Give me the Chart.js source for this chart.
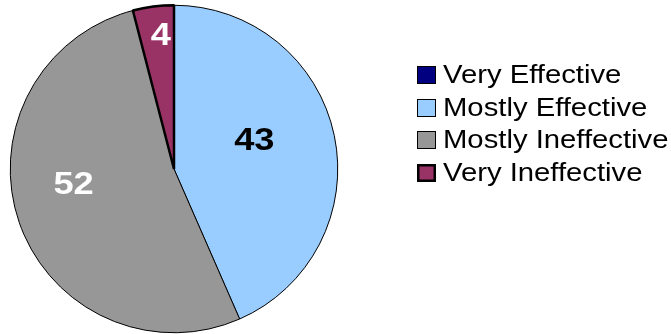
<!DOCTYPE html>
<html>
<head>
<meta charset="utf-8">
<style>
  html, body { margin: 0; padding: 0; background: #fff; }
  #wrap { width: 671px; height: 334px; }
</style>
<script src="https://cdn.jsdelivr.net/npm/chart.js@4/dist/chart.umd.min.js"></script>
</head>
<body>
<div id="wrap"><canvas id="pie" width="671" height="334"></canvas></div>
<script>
const CATEGORIES = ["Very Effective", "Mostly Effective", "Mostly Ineffective", "Very Ineffective"];
const VALUES = [0, 43, 52, 4];
const FILLS = ["#000080", "#99ccff", "#979797", "#993366"];
const LABEL_INK = ["#fff", "#000", "#fff", "#fff"];

// where each value label sits: fraction of radius, and nudge (deg) from the slice middle
const LABEL_SPOT = [
  { r: 0.6, turn: 0 },
  { r: 0.52, turn: -7.5 },
  { r: 0.62, turn: 10.6 },
  { r: 0.82, turn: 1.7 },
];

const STRETCH = 1.17;

function wideText(ctx, text, x, y, align) {
  ctx.save();
  ctx.translate(x, y);
  ctx.scale(STRETCH, 1);
  ctx.textAlign = align;
  ctx.fillText(text, 0, 0);
  ctx.restore();
}

const valueLabels = {
  id: "valueLabels",
  afterDatasetsDraw(chart) {
    const ctx = chart.ctx;
    const arcs = chart.getDatasetMeta(0).data;
    ctx.save();
    ctx.font = "bold 31px 'Liberation Sans', Arial, sans-serif";
    ctx.textBaseline = "middle";
    arcs.forEach((arc, i) => {
      if (!VALUES[i]) return;
      const spot = LABEL_SPOT[i];
      const mid = (arc.startAngle + arc.endAngle) / 2 + (spot.turn * Math.PI) / 180;
      const rad = arc.outerRadius * spot.r;
      const x = arc.x + Math.cos(mid) * rad;
      const y = arc.y + Math.sin(mid) * rad;
      ctx.fillStyle = LABEL_INK[i];
      wideText(ctx, String(VALUES[i]), x, y + 1, "center");
    });
    ctx.restore();
  },
};

// legend drawn by hand so it can sit high on the right
const sideLegend = {
  id: "sideLegend",
  afterDraw(chart) {
    const ctx = chart.ctx;
    const left = 417;
    const firstBase = 83;
    const step = 32.7;
    ctx.save();
    ctx.font = "25px 'Liberation Sans', Arial, sans-serif";
    ctx.textBaseline = "alphabetic";
    CATEGORIES.forEach((name, i) => {
      const base = Math.round(firstBase + i * step);
      const thick = i === 3 ? 2.5 : 1;
      ctx.fillStyle = FILLS[i];
      ctx.fillRect(left, base - 17, 19, 18);
      ctx.lineWidth = thick;
      ctx.strokeStyle = "#000";
      ctx.strokeRect(left + thick / 2, base - 17 + thick / 2, 19 - thick, 18 - thick);
      ctx.fillStyle = "#000";
      wideText(ctx, name, 443, base, "left");
    });
    ctx.restore();
  },
};

new Chart(document.getElementById("pie"), {
  type: "pie",
  data: {
    labels: CATEGORIES,
    datasets: [
      {
        data: VALUES,
        backgroundColor: FILLS,
        borderColor: "#000",
        borderWidth: [0, 1, 1, 2.5],
      },
    ],
  },
  options: {
    responsive: false,
    animation: false,
    layout: { padding: { left: 9, top: 4, right: 332, bottom: 0 } },
    plugins: {
      legend: { display: false },
      tooltip: { enabled: false },
    },
  },
  plugins: [valueLabels, sideLegend],
});
</script>
</body>
</html>
